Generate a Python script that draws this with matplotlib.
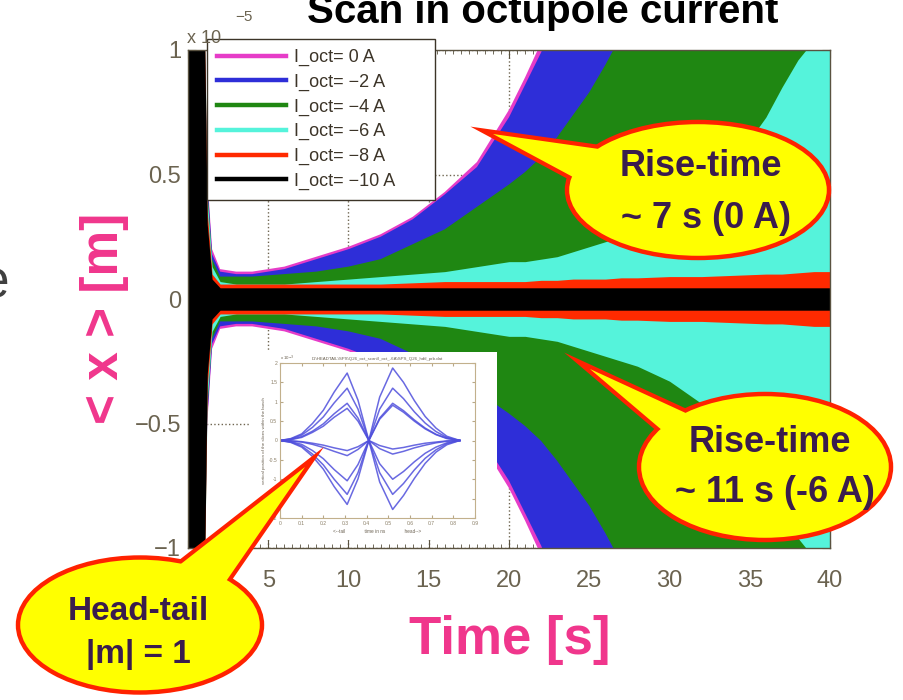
import matplotlib
matplotlib.use('Agg')
import matplotlib.pyplot as plt
from matplotlib.patches import Ellipse, Polygon
from matplotlib.lines import Line2D
from matplotlib.ticker import MultipleLocator, FuncFormatter

W, H = 904, 700

# time axis [s] and envelope half-widths of <x> [1e-5 m] for each octupole current
t = [0, 0.9, 1.05, 1.2, 1.5, 2, 3, 4, 6, 8, 10, 12, 14, 16, 18, 20, 21, 22,
     23, 24, 25, 26, 27, 28, 30, 32, 34, 36, 37, 38, 39, 40]
env_0A = [1.3, 1.3, 1.0, 0.5, 0.2, 0.12, 0.11, 0.11, 0.13, 0.17, 0.21, 0.26, 0.33,
          0.43, 0.55, 0.76, 0.89, 1.03, 1.2, 1.4, 1.6, 1.8, 2, 2, 2, 2, 2, 2, 2, 2, 2, 2]
env_2A = [1.3, 1.3, 1.0, 0.48, 0.18, 0.11, 0.1, 0.1, 0.12, 0.16, 0.2, 0.25, 0.32,
          0.42, 0.53, 0.73, 0.86, 0.99, 1.15, 1.35, 1.55, 1.75, 2, 2, 2, 2, 2, 2, 2, 2, 2, 2]
env_4A = [1.3, 1.3, 1.0, 0.45, 0.16, 0.09, 0.09, 0.09, 0.1, 0.11, 0.13, 0.16, 0.22,
          0.28, 0.37, 0.46, 0.51, 0.57, 0.65, 0.74, 0.83, 0.94, 1.06, 1.18, 1.4, 1.6,
          1.8, 2, 2, 2, 2, 2]
env_6A = [1.3, 1.3, 1.0, 0.4, 0.13, 0.07, 0.06, 0.06, 0.06, 0.07, 0.08, 0.09, 0.1,
          0.11, 0.13, 0.15, 0.15, 0.16, 0.17, 0.19, 0.21, 0.23, 0.25, 0.27, 0.33, 0.42,
          0.55, 0.73, 0.85, 0.96, 1.04, 1.12]
env_8A = [1.3, 1.3, 1.0, 0.35, 0.1, 0.06, 0.06, 0.06, 0.06, 0.06, 0.06, 0.06, 0.065,
          0.07, 0.07, 0.07, 0.07, 0.075, 0.075, 0.08, 0.08, 0.08, 0.085, 0.085, 0.09,
          0.09, 0.095, 0.1, 0.1, 0.105, 0.11, 0.11]
env_10A = [1.3, 1.3, 1.0, 0.3, 0.08, 0.045, 0.045, 0.045, 0.045, 0.045, 0.045, 0.045,
           0.045, 0.045, 0.045, 0.045, 0.045, 0.045, 0.045, 0.045, 0.045, 0.045, 0.045,
           0.045, 0.045, 0.045, 0.045, 0.045, 0.045, 0.045, 0.045, 0.045]
currents = [0, -2, -4, -6, -8, -10]
envelopes = [env_0A, env_2A, env_4A, env_6A, env_8A, env_10A]
colors = ['#e63cc8', '#2e2ed8', '#1f8712', '#55f3db', '#ff2a00', '#000000']

# head-tail snapshot: slice positions along the bunch [1e-3]
t_ns = [0, 0.05, 0.1, 0.15, 0.2, 0.25, 0.31, 0.36, 0.41, 0.46, 0.52, 0.57, 0.62,
        0.67, 0.72, 0.77, 0.83]
traces = [
    [0, 0.05, 0.17, 0.44, 0.78, 1.25, 1.74, 1.04, 0, 1.12, 1.87, 1.5, 1.03, 0.62, 0.32, 0.11, 0],
    [0, 0.04, 0.14, 0.34, 0.61, 0.97, 1.35, 0.81, 0, 0.81, 1.35, 1.08, 0.74, 0.45, 0.23, 0.08, 0],
    [0, 0.03, 0.1, 0.24, 0.43, 0.69, 0.96, 0.58, 0, 0.58, 0.96, 0.77, 0.53, 0.32, 0.16, 0.06, 0],
    [0, 0.02, 0.08, 0.21, 0.37, 0.6, 0.83, 0.5, 0, 0.55, 0.91, 0.73, 0.5, 0.3, 0.15, 0.05, 0],
    [0, -0.01, -0.04, -0.1, -0.18, -0.28, -0.39, -0.23, 0, -0.21, -0.35, -0.28, -0.19, -0.12, -0.06, -0.02, 0],
    [0, -0.01, -0.03, -0.07, -0.12, -0.19, -0.26, -0.16, 0, -0.13, -0.22, -0.18, -0.12, -0.07, -0.04, -0.01, 0],
    [0, -0.03, -0.1, -0.26, -0.47, -0.75, -1.04, -0.62, 0, -0.6, -1.0, -0.8, -0.55, -0.33, -0.17, -0.06, 0],
    [0, -0.04, -0.14, -0.35, -0.63, -1.0, -1.39, -0.83, 0, -0.83, -1.39, -1.11, -0.76, -0.46, -0.24, -0.08, 0],
    [0, -0.05, -0.17, -0.41, -0.74, -1.19, -1.65, -0.99, 0, -1.07, -1.78, -1.42, -0.98, -0.59, -0.3, -0.11, 0],
]

plt.rcParams['font.family'] = ['Liberation Sans', 'DejaVu Sans']
frame = '#5a5240'
ticktxt = '#6b6350'
pink = '#f0368c'
purple = '#3a1c4d'

fig = plt.figure(figsize=(W / 100, H / 100), dpi=100)

# main time-domain plot
ax = fig.add_axes([188 / W, 1 - 548 / H, (830 - 188) / W, (548 - 50) / H])
for env, col in zip(envelopes, colors):
    ax.fill_between(t, [-v for v in env], env, color=col, lw=0)
ax.set_xlim(0, 40)
ax.set_ylim(-1, 1)
ax.set_xticks(range(0, 41, 5))
ax.set_yticks([-1, -0.5, 0, 0.5, 1])
ax.xaxis.set_minor_locator(MultipleLocator(0.5))
ax.yaxis.set_major_formatter(FuncFormatter(lambda v, p: ('%g' % v).replace('-', '\u2212')))
ax.grid(True, ls=':', color='#6e6550', lw=1.0)
ax.set_axisbelow(True)
ax.tick_params(which='both', direction='in', top=True, right=True, color=frame)
ax.tick_params(which='major', length=6, labelsize=17, labelcolor=ticktxt)
ax.tick_params(axis='x', which='major', pad=16)
ax.tick_params(axis='y', which='major', pad=5)
ax.tick_params(which='minor', length=3)
for sp in ax.spines.values():
    sp.set_color(frame)
    sp.set_linewidth(1.0)

handles = [Line2D([], [], color=c, lw=3.2) for c in colors]
labels = [('I_oct= %d A' % c).replace('-', '\u2212') for c in currents]
leg = ax.legend(handles, labels, loc='upper left',
                bbox_to_anchor=(207 / W, 1 - 46 / H, (435 - 207) / W, 0.01),
                bbox_transform=fig.transFigure, mode='expand', borderaxespad=0,
                fontsize=13, handlelength=3.8, handletextpad=0.45, labelspacing=0.42,
                borderpad=0.55, fancybox=False, framealpha=1, edgecolor='#3c3428')
leg.get_frame().set_linewidth(1.0)
for txt in leg.get_texts():
    txt.set_color('#3c3428')

# inset with a head-tail snapshot
box = fig.add_axes([250 / W, 1 - 540 / H, (497 - 250) / W, (540 - 352) / H])
box.set_facecolor('white')
box.set_xticks([])
box.set_yticks([])
for sp in box.spines.values():
    sp.set_visible(False)

ins = fig.add_axes([280 / W, 1 - 518 / H, (475 - 280) / W, (518 - 363) / H])
for y in traces:
    ins.plot(t_ns, y, color='#4f4fdc', lw=1.1, alpha=0.85)
ins.set_xlim(0, 0.9)
ins.set_ylim(-2, 2)
ins.set_xticks([i / 10 for i in range(10)])
ins.set_yticks([-2, -1.5, -1, -0.5, 0, 0.5, 1, 1.5, 2])
ins.xaxis.set_major_formatter(FuncFormatter(lambda v, p: '%g' % v))
ins.yaxis.set_major_formatter(FuncFormatter(lambda v, p: '%g' % v))
ins.tick_params(direction='in', length=2, labelsize=3.6, labelcolor='#8a7e66',
                color='#b8a888', top=True, right=True, pad=2)
for sp in ins.spines.values():
    sp.set_color('#c2b08c')
    sp.set_linewidth(0.8)
ins.set_title(r'D:\HEADTAIL\SPS\Q26_oct_scan\I_oct_-6A\SPS_Q26_hdtl_prb.dat',
              fontsize=3.2, color='#6a6050', pad=2)
ins.set_xlabel('<--tail              time in ns              head-->', fontsize=3.4,
               color='#6a6050', labelpad=2)
ins.set_ylabel('vertical position of the slices within the bunch', fontsize=3.2,
               color='#6a6050', labelpad=2)
ins.text(0, 1.02, 'x 10$^{-3}$', transform=ins.transAxes, fontsize=3.2, color='#6a6050')

# annotations drawn in pixel coordinates
ov = fig.add_axes([0, 0, 1, 1], zorder=10)
ov.set_xlim(0, W)
ov.set_ylim(H, 0)
ov.axis('off')

ov.text(543, 23, 'Scan in octupole current', fontsize=29, fontweight='bold',
        ha='center', va='baseline', color='black')
ov.text(187, 43, 'x 10', fontsize=13, color=ticktxt, ha='left', va='baseline')
ov.text(235, 21, '\u22125', fontsize=11, color=ticktxt, ha='left', va='baseline')
ov.text(9, 297, 'e', fontsize=37, color='#404040', ha='right', va='baseline')
ov.text(105, 318, '< x > [m]', fontsize=37, fontweight='bold', color=pink,
        rotation=90, ha='center', va='center')
ov.text(510, 640, 'Time [s]', fontsize=38, fontweight='bold', color=pink,
        ha='center', va='center')


def callout(cx, cy, w, h, tip, b1, b2, lines, size, family):
    red, yel = '#ff2200', '#ffff00'
    ov.add_patch(Polygon([tip, b1, b2], closed=True, fc=yel, ec=red, lw=6, joinstyle='miter'))
    ov.add_patch(Ellipse((cx, cy), w, h, fc=yel, ec=red, lw=3.2))
    ov.add_patch(Polygon([tip, b1, b2], closed=True, fc=yel, ec='none'))
    for (dx, dy), s in lines:
        ov.text(cx + dx, cy + dy, s, fontsize=size, fontweight='bold', color=purple,
                ha='center', va='center', family=family)


callout(698, 190, 262, 136, (493, 134), (606, 150), (586, 184),
        [((3, -24), 'Rise-time'), ((8, 28), '~ 7 s (0 A)')], 26,
        ['Liberation Sans', 'DejaVu Sans'])
callout(765, 467, 252, 146, (590, 369), (714, 426), (676, 442),
        [((5, -25), 'Rise-time'), ((10, 26), '~ 11 s (-6 A)')], 26,
        ['Liberation Sans', 'DejaVu Sans'])
callout(140, 625, 244, 135, (305, 467), (168, 574), (220, 590),
        [((-2, -13), 'Head-tail'), ((-2, 30), '|m| = 1')], 24,
        ['Liberation Sans Narrow', 'Liberation Sans', 'DejaVu Sans'])

fig.savefig('out.png', dpi=100)
